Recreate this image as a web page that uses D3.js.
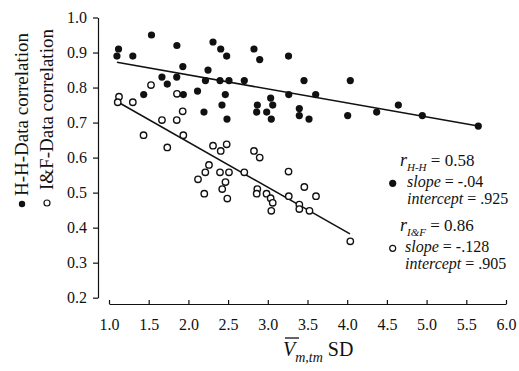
<!DOCTYPE html>
<html>
<head>
<meta charset="utf-8">
<script src="https://cdn.jsdelivr.net/npm/d3@7"></script>
<style>
  body { margin: 0; background: #fff; }
  svg text { font-family: "Liberation Serif", "Times New Roman", serif; fill: #111; }
</style>
</head>
<body>
<div id="chart"></div>
<script>
// H-H data correlation (filled dots)
const hhSD = [1.12, 1.10, 1.30, 1.535, 1.855, 1.93, 1.667, 1.734, 1.437, 1.853, 1.936, 2.115, 2.196, 2.247, 2.215,
  2.31, 2.407, 2.482, 2.398, 2.511, 2.465, 2.423, 2.486, 2.704, 2.826, 2.898, 2.868, 2.86, 2.986, 3.036, 3.062,
  3.044, 3.261, 3.264, 3.456, 3.603, 3.397, 3.397, 3.519, 4.039, 4.006, 4.371, 4.644, 4.946, 5.651];
const hhCorr = [0.91, 0.89, 0.89, 0.95, 0.92, 0.86, 0.83, 0.81, 0.78, 0.83, 0.78, 0.79, 0.73, 0.85, 0.82,
  0.93, 0.91, 0.89, 0.82, 0.82, 0.78, 0.75, 0.71, 0.82, 0.91, 0.88, 0.75, 0.73, 0.73, 0.77, 0.75,
  0.71, 0.89, 0.78, 0.82, 0.78, 0.74, 0.72, 0.71, 0.82, 0.72, 0.73, 0.75, 0.72, 0.69];

// I&F data correlation (open circles)
const ifSD = [1.126, 1.11, 1.30, 1.529, 1.856, 1.928, 1.667, 1.853, 1.435, 1.936, 1.734, 2.31, 2.407, 2.482,
  2.826, 2.898, 2.259, 2.213, 2.121, 2.20, 2.398, 2.511, 2.467, 2.426, 2.49, 2.704, 2.868, 2.86, 2.984,
  3.036, 3.062, 3.044, 3.261, 3.264, 3.46, 3.607, 3.397, 3.397, 3.525, 4.039];
const ifCorr = [0.774, 0.758, 0.758, 0.807, 0.782, 0.732, 0.707, 0.707, 0.664, 0.664, 0.629, 0.634, 0.619, 0.638,
  0.619, 0.600, 0.579, 0.558, 0.538, 0.497, 0.558, 0.558, 0.530, 0.510, 0.483, 0.558, 0.510, 0.497, 0.497,
  0.484, 0.471, 0.448, 0.560, 0.490, 0.516, 0.490, 0.466, 0.453, 0.448, 0.361];

// regression line endpoints
const hhFit = [[1.1, 0.872], [5.65, 0.690]];
const ifFit = [[1.117, 0.758], [4.035, 0.382]];

const xTicks = [1.0, 1.5, 2.0, 2.5, 3.0, 3.5, 4.0, 4.5, 5.0, 5.5, 6.0];
const yTicks = [0.2, 0.3, 0.4, 0.5, 0.6, 0.7, 0.8, 0.9, 1.0];

const width = 519, height = 371;

const svg = d3.select("#chart").append("svg")
  .attr("width", width)
  .attr("height", height);

const x = d3.scaleLinear().domain([1, 6]).range([109, 506]);
const y = d3.scaleLinear().domain([0.2, 1.0]).range([297.7, 17.5]);

// Y axis
const yAxis = svg.append("g")
  .attr("transform", "translate(98,0)")
  .call(d3.axisLeft(y).tickValues(yTicks).tickFormat(d3.format(".1f")).tickSize(5).tickSizeOuter(0).tickPadding(6));
yAxis.select(".domain").attr("stroke", "#111").attr("stroke-width", 1.2);
yAxis.selectAll(".tick line").attr("stroke", "#111").attr("stroke-width", 1.2);
yAxis.selectAll(".tick text").style("font-size", "16px").attr("fill", "#111");

// X axis (ticks pointing up)
const xAxis = svg.append("g")
  .attr("transform", "translate(0,304)")
  .call(d3.axisBottom(x).tickValues(xTicks).tickFormat(d3.format(".1f")).tickSize(0).tickPadding(15));
xAxis.select(".domain").attr("stroke", "#111").attr("stroke-width", 1.2);
xAxis.selectAll(".tick").append("line")
  .attr("y1", 0).attr("y2", -4)
  .attr("stroke", "#111").attr("stroke-width", 1.2);
xAxis.selectAll(".tick text").style("font-size", "16px").attr("fill", "#111");

// regression lines
const line = d3.line().x(d => x(d[0])).y(d => y(d[1]));
svg.append("path").attr("d", line(hhFit)).attr("fill", "none").attr("stroke", "#111").attr("stroke-width", 1.5);
svg.append("path").attr("d", line(ifFit)).attr("fill", "none").attr("stroke", "#111").attr("stroke-width", 1.5);

// open circles
svg.append("g").selectAll("circle")
  .data(ifSD)
  .join("circle")
  .attr("cx", d => x(d))
  .attr("cy", (d, i) => y(ifCorr[i]))
  .attr("r", 3.2)
  .attr("fill", "#fff")
  .attr("stroke", "#111")
  .attr("stroke-width", 1.4);

// filled dots
svg.append("g").selectAll("circle")
  .data(hhSD)
  .join("circle")
  .attr("cx", d => x(d))
  .attr("cy", (d, i) => y(hhCorr[i]))
  .attr("r", 3.6)
  .attr("fill", "#111");

// Y axis title (two rotated lines with markers)
const ytitle = svg.append("g");
ytitle.append("text")
  .attr("transform", "translate(28,196) rotate(-90)")
  .style("font-size", "19px")
  .text("H-H-Data correlation");
ytitle.append("circle").attr("cx", 22).attr("cy", 204).attr("r", 3.2).attr("fill", "#111");
ytitle.append("text")
  .attr("transform", "translate(53,190) rotate(-90)")
  .style("font-size", "19px")
  .text("I&F-Data correlation");
ytitle.append("circle").attr("cx", 47).attr("cy", 203).attr("r", 3).attr("fill", "#fff").attr("stroke", "#111").attr("stroke-width", 1.2);

// X axis title
const xt = svg.append("text")
  .attr("x", 283).attr("y", 356)
  .style("font-size", "20px");
xt.append("tspan").style("font-style", "italic").text("V");
xt.append("tspan").style("font-style", "italic").style("font-size", "14px").attr("dy", 6).text("m,tm");
xt.append("tspan").attr("dy", -6).text(" SD");
svg.append("line").attr("x1", 285).attr("x2", 299).attr("y1", 338).attr("y2", 338)
  .attr("stroke", "#111").attr("stroke-width", 1.3);

// annotation: regression stats
function stat(gx, gy, sub, rval) {
  const t = svg.append("text").attr("x", gx).attr("y", gy).style("font-size", "17px");
  t.append("tspan").style("font-style", "italic").style("font-size", "18px").text("r");
  t.append("tspan").style("font-style", "italic").style("font-size", "11px").attr("dy", 5).text(sub);
  t.append("tspan").attr("dy", -5).text(" = " + rval);
}
function line2(gx, gy, label, val) {
  const t = svg.append("text").attr("x", gx).attr("y", gy).style("font-size", "16px");
  t.append("tspan").style("font-style", "italic").text(label);
  t.append("tspan").text(" = " + val);
}
stat(400, 166, "H-H", "0.58");
svg.append("circle").attr("cx", 392.7).attr("cy", 183.3).attr("r", 3.6).attr("fill", "#111");
line2(407, 187, "slope", "-.04");
line2(407, 204, "intercept", ".925");

stat(400, 231, "I&F", "0.86");
svg.append("circle").attr("cx", 392.7).attr("cy", 248.3).attr("r", 3).attr("fill", "#fff").attr("stroke", "#111").attr("stroke-width", 1.2);
line2(405, 252, "slope", "-.128");
line2(405, 269, "intercept", ".905");
</script>
</body>
</html>
